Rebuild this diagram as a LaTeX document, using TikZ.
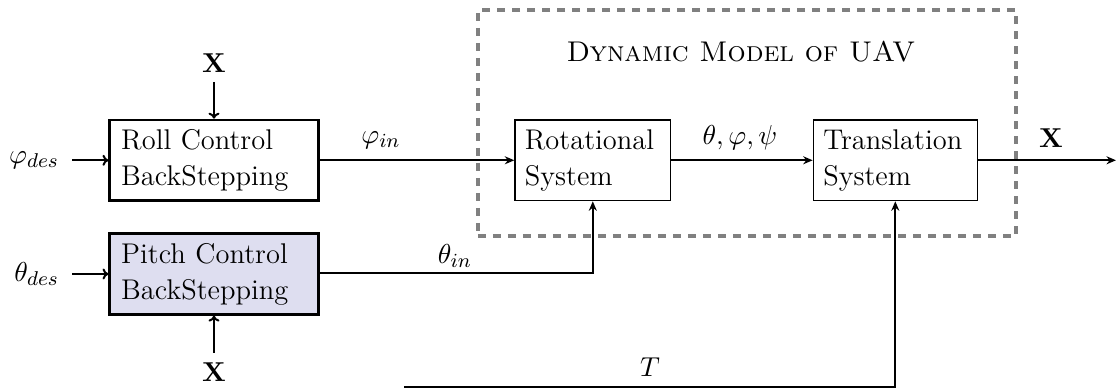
\documentclass[tikz,border=0pt]{standalone}
\usetikzlibrary{arrows.meta}
\definecolor{pitchfill}{RGB}{222,222,240}
\definecolor{dashgray}{RGB}{128,128,128}
\begin{document}
\begin{tikzpicture}[x=0.4pt,y=-0.4pt,
  every node/.style={font=\fontsize{11.4}{14.4}\selectfont},
  ctrlbox/.style={draw,line width=1pt,inner xsep=4.6pt,inner ysep=0pt,text width=74.2pt,minimum height=32.3pt,align=left},
  sysbox/.style={draw,line width=0.5pt,inner xsep=4pt,inner ysep=0pt,minimum height=32.3pt,align=left},
  lbl/.style={inner sep=0pt},
  inarrow/.style={line width=0.8pt,-{To[length=2.4pt,width=4.4pt]}},
  conn/.style={line width=0.8pt,-{Stealth[length=3.8pt,width=3.2pt]}},
  dynbox/.style={draw=dashgray,line width=1.5pt,dash pattern=on 3.2pt off 2.8pt,minimum width=215.2pt,minimum height=90.4pt,inner sep=0pt}
]
\useasboundingbox (0,0) rectangle (1116,390);
% dashed model frame
\node[dynbox] (dyn) at (747,123) {};
\node[lbl] (title) at (741,52) {\textsc{Dynamic Model of UAV}};
% blocks
\node[ctrlbox] (roll) at (214,160.3) {Roll Control\\BackStepping};
\node[ctrlbox,fill=pitchfill] (pitch) at (214,274) {Pitch Control\\BackStepping};
\node[sysbox,text width=54.3pt] (rot) at (592.8,160.3) {Rotational\\System};
\node[sysbox,text width=57.6pt] (trans) at (895.3,160.3) {Translation\\System};
% inputs
\node[anchor=east,inner xsep=5pt,inner ysep=0pt] (phides) at (72,160.3) {$\varphi_{des}$};
\node[anchor=east,inner xsep=5pt,inner ysep=0pt] (thetades) at (72,274) {$\theta_{des}$};
\node[anchor=south,inner sep=3.6pt] (xtop) at (214,82) {$\mathbf{X}$};
\node[anchor=north,inner sep=3.6pt] (xbot) at (214,353) {$\mathbf{X}$};
\draw[inarrow] (phides.east) -- (roll.west);
\draw[inarrow] (thetades.east) -- (pitch.west);
\draw[inarrow] (xtop.south) -- (roll.north);
\draw[inarrow] (xbot.north) -- (pitch.south);
% connections
\draw[conn] (roll.east) -- (rot.west);
\node[lbl] (phiin) at (381,140) {$\varphi_{in}$};
\draw[conn] (rot.east) -- (trans.west);
\node[lbl] (angles) at (740,138) {$\theta,\varphi,\psi$};
\coordinate (out) at (1116,160.3);
\draw[conn] (trans.east) -- (out);
\node[lbl] (xout) at (1051,138) {$\mathbf{X}$};
\draw[conn] (pitch.east |- 0,273.3) -| (rot.south);
\node[lbl] (thetain) at (455,256) {$\theta_{in}$};
\coordinate (tstart) at (404,386.7);
\draw[conn] (tstart) -| (trans.south);
\node[lbl] (tlabel) at (650,367) {$T$};
\end{tikzpicture}
\end{document}
